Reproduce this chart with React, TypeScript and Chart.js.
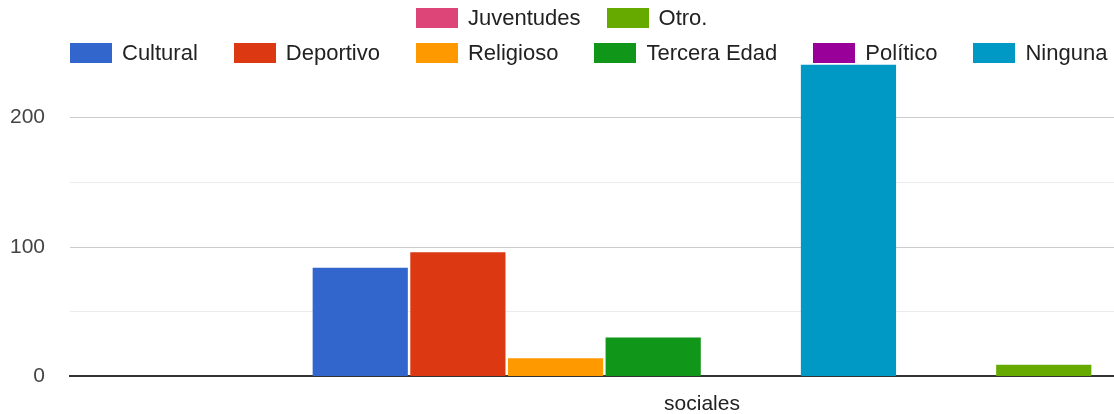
import React, { useEffect, useRef } from "react";
import { Chart, registerables } from "chart.js";

Chart.register(...registerables);

const categories = ["sociales"];
const seriesNames = ["Cultural", "Deportivo", "Religioso", "Tercera Edad", "Político", "Ninguna", "Juventudes", "Otro."];
const seriesValues = [84, 96, 14, 30, 0, 241, 0, 9];
const seriesColors = ["#3366cc", "#dc3912", "#ff9900", "#109618", "#990099", "#0099c6", "#dd4477", "#66aa00"];
const yTickLabels = [0, 100, 200];
const legendRows = [
  [6, 7],
  [0, 1, 2, 3, 4, 5],
];

const FONT = '"Liberation Sans", Arial, sans-serif';

export default function App() {
  const canvasRef = useRef<HTMLCanvasElement | null>(null);

  useEffect(() => {
    if (!canvasRef.current) return;
    const chart = new Chart(canvasRef.current, {
      type: "bar",
      data: {
        labels: categories,
        datasets: seriesNames.map((name, i) => ({
          label: name,
          data: [seriesValues[i]],
          backgroundColor: seriesColors[i],
          borderWidth: 0,
          barPercentage: 0.975,
          categoryPercentage: 0.618,
        })),
      },
      options: {
        animation: false,
        responsive: true,
        maintainAspectRatio: false,
        devicePixelRatio: 1,
        layout: { padding: { top: 53, left: 0, right: 0, bottom: 0 } },
        plugins: {
          legend: { display: false },
          tooltip: { enabled: false },
        },
        font: { family: FONT },
        scales: {
          x: {
            grid: { display: false },
            border: { display: true, color: "#333333", width: 2 },
            ticks: { font: { family: FONT, size: 21 }, color: "#222222", padding: 7 },
            afterFit: (scale: any) => {
              scale.height = 37;
            },
          },
          y: {
            min: 0,
            max: 250,
            border: { display: false },
            grid: {
              drawTicks: false,
              color: (c: any) => {
                const v = c.tick ? c.tick.value : 0;
                if (v === 0 || v === 250) return "rgba(0,0,0,0)";
                return v % 100 === 0 ? "#cccccc" : "#ebebeb";
              },
            },
            ticks: {
              stepSize: 50,
              autoSkip: false,
              font: { family: FONT, size: 21 },
              color: "#444444",
              padding: 25,
              callback: (v: any) => (yTickLabels.includes(Number(v)) ? String(v) : ""),
            },
            afterFit: (scale: any) => {
              scale.width = 70;
            },
          },
        },
      } as any,
    });
    return () => chart.destroy();
  }, []);

  return (
    <div
      style={{
        position: "fixed",
        left: 0,
        top: 0,
        width: 1114,
        height: 414,
        overflow: "hidden",
        background: "#ffffff",
        fontFamily: FONT,
      }}
    >
      <div style={{ position: "absolute", left: 0, top: 0, width: 1334, height: 414 }}>
        <canvas ref={canvasRef} />
      </div>
      {legendRows.map((row, r) => (
        <div
          key={r}
          style={{
            position: "absolute",
            left: r === 0 ? 416 : 70,
            top: r === 0 ? 8 : 43,
            height: 20,
            display: "flex",
            alignItems: "center",
            gap: r === 0 ? 26 : 36,
            whiteSpace: "nowrap",
          }}
        >
          {row.map((i) => (
            <div key={i} style={{ display: "flex", alignItems: "center", background: "#ffffff" }}>
              <span style={{ display: "inline-block", width: 42, height: 20, background: seriesColors[i], marginRight: 10 }} />
              <span style={{ fontSize: 22, color: "#222222", lineHeight: "20px" }}>{seriesNames[i]}</span>
            </div>
          ))}
        </div>
      ))}
    </div>
  );
}
